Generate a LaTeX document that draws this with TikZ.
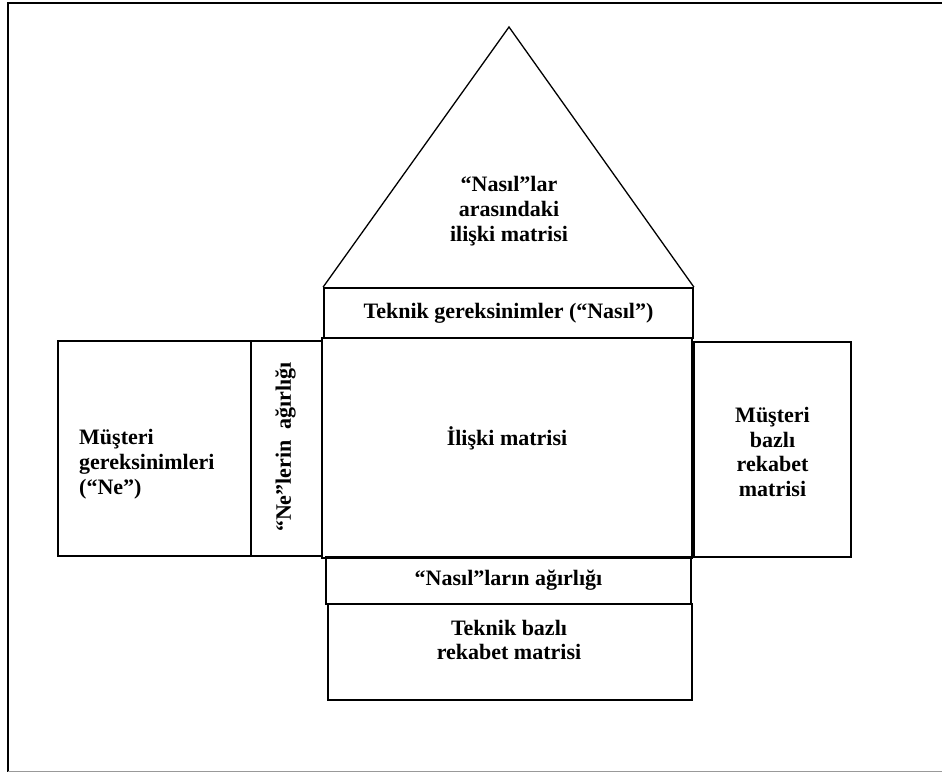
\documentclass[tikz,border=0pt]{standalone}
\usepackage{fontspec}
\setmainfont{Liberation Serif}
\begin{document}
\begin{tikzpicture}[x=1pt,y=-1pt,
  box/.style={draw=black,line width=1.8pt,rectangle,inner sep=0pt},
  lbl/.style={font=\fontsize{22}{24.8}\selectfont\bfseries,inner sep=0pt},
  roofline/.style={draw=black,line width=1.3pt,line join=miter}]
\useasboundingbox (0,0) rectangle (942,773);
% page frame: left and top in black, bottom in grey
\draw[line width=2.4pt] (942,3) -- (8,3) -- (8,772);
\draw[gray!80,line width=1.2pt] (8,771.5) -- (942,771.5);

% technical requirements (the "Hows")
\node[box,minimum width=369pt,minimum height=50pt] (tg) at (508.5,313) {};
\node[lbl] (tgt) at (tg.center) {Teknik gereksinimler (“Nasıl”)};

% roof: correlation between the Hows
\coordinate (apex) at (509,27);
\draw[roofline] (tg.north west) -- (apex) -- (tg.north east);
\node[lbl,align=center] (roof) at (509,211) {“Nasıl”lar\\arasındaki\\ilişki matrisi};

% customer requirements and their weights
\node[box,minimum width=193pt,minimum height=215pt] (mg) at (154.5,448.5) {};
\node[lbl,align=left,anchor=west] (mgt) at (79,464) {Müşteri\\gereksinimleri\\(“Ne”)};
\node[box,minimum width=71pt,minimum height=215pt] (nw) at (286.5,448.5) {};
\node[lbl,rotate=90] (nwt) at (285.5,447) {“Ne”lerin\ \ ağırlığı};

% relationship matrix
\node[box,minimum width=370pt,minimum height=220pt] (im) at (507,448) {};
\node[lbl] (imt) at (507,438) {İlişki matrisi};

% customer competitive assessment
\node[box,minimum width=157pt,minimum height=215pt] (mr) at (772.5,449.5) {};
\node[lbl,align=center] (mrt) at (772.5,452) {Müşteri\\bazlı\\rekabet\\matrisi};

% weights of the Hows
\node[box,minimum width=365pt,minimum height=47pt] (na) at (508.5,580.5) {};
\node[lbl] (nat) at (na.center) {“Nasıl”ların ağırlığı};

% technical competitive assessment
\node[box,minimum width=364pt,minimum height=96pt] (tb) at (510,652) {};
\node[lbl,align=center] (tbt) at (509,640) {Teknik bazlı\\rekabet matrisi};
\end{tikzpicture}
\end{document}
